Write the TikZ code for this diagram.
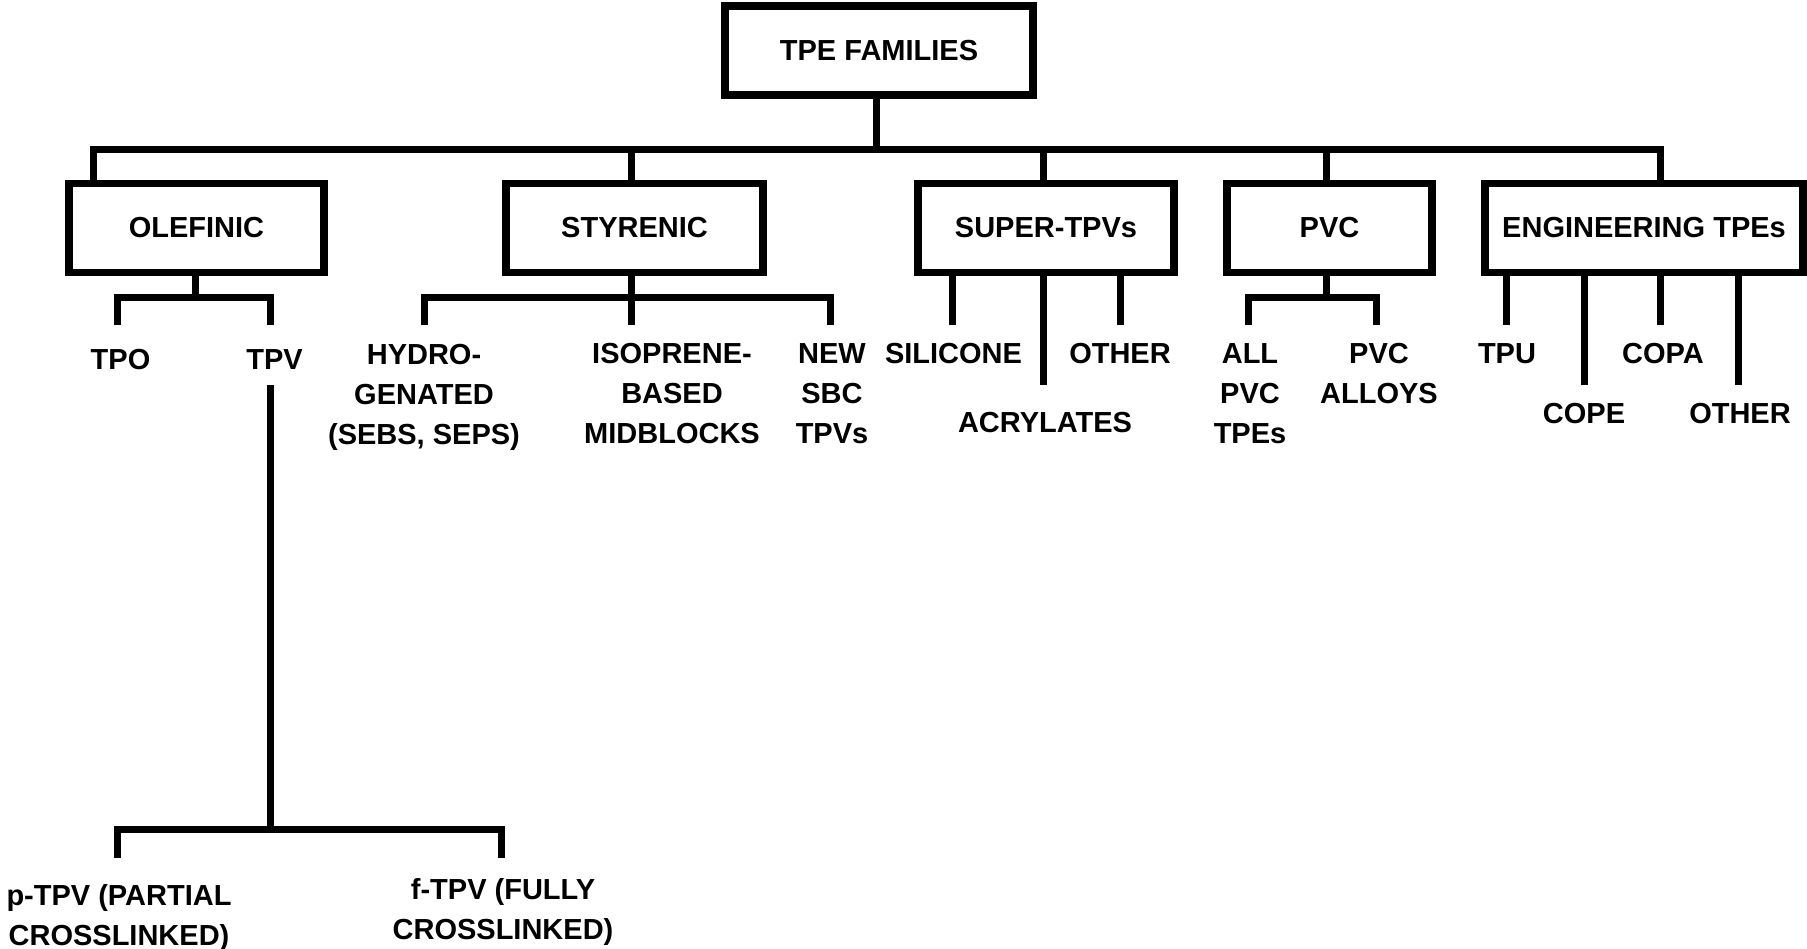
\documentclass[tikz,border=0pt]{standalone}
\usepackage{fontspec}
\setmainfont{Liberation Sans}
\usetikzlibrary{calc}

\tikzset{
  famBox/.style={draw, line width=3.85pt, outer sep=0pt, inner sep=0pt,
    minimum height=44.4pt, font=\fontsize{14.5}{20}\selectfont\bfseries},
  famText/.style={inner sep=0pt, align=center, anchor=base,
    font=\fontsize{14.5}{20}\selectfont\bfseries},
  link/.style={line width=3.5pt},
}

\begin{document}
\begin{tikzpicture}[x=0.5pt,y=-0.5pt]
		%%%%% START %%%%%
		\useasboundingbox (0,0) rectangle (1807,948);
		
		\node[famBox, minimum width=154.15pt] (fam) at (879,50.5) {TPE FAMILIES};
		
		\node[famBox, minimum width=127.65pt] (olef) at (196.5,228) {OLEFINIC};
		\node[famBox, minimum width=128.65pt] (styr) at (634.5,228) {STYRENIC};
		\node[famBox, minimum width=128.15pt] (super) at (1046,228) {SUPER-TPVs};
		\node[famBox, minimum width=102.65pt] (pvc) at (1329.5,228) {PVC};
		\node[famBox, minimum width=159.15pt] (eng) at (1644,228) {ENGINEERING TPEs};
		
		% labels sit on the baseline of their last line
		\node[famText] (tpo) at (120.5,369) {TPO};
		\node[famText] (tpv) at (274.5,369) {TPV};
		\node[famText] (hydro) at (424,444) {HYDRO-\\GENATED\\(SEBS, SEPS)};
		\node[famText] (iso) at (672,443) {ISOPRENE-\\BASED\\MIDBLOCKS};
		\node[famText] (sbc) at (832,443) {NEW\\SBC\\TPVs};
		\node[famText] (sil) at (953.5,363) {SILICONE};
		\node[famText] (acr) at (1045,432) {ACRYLATES};
		\node[famText] (oth) at (1120,363) {OTHER};
		\node[famText] (allpvc) at (1250,443) {ALL\\PVC\\TPEs};
		\node[famText] (alloy) at (1379,403) {PVC\\ALLOYS};
		\node[famText] (tpu) at (1507,363) {TPU};
		\node[famText] (cope) at (1584,423) {COPE};
		\node[famText] (copa) at (1663,363) {COPA};
		\node[famText] (othe) at (1740,423) {OTHER};
		\node[famText] (ptpv) at (119,945) {p-TPV (PARTIAL\\CROSSLINKED)};
		\node[famText] (ftpv) at (503,939) {f-TPV (FULLY\\CROSSLINKED)};
		
		% top level
		\coordinate (top) at (876,149);
		\coordinate (olef-up) at (93,149);
		\coordinate (styr-up) at (631,149);
		\coordinate (super-up) at (1043,149);
		\coordinate (pvc-up) at (1326.5,149);
		\coordinate (eng-up) at (1660,149);
		\draw[link] (top |- fam.south) -- (top);
		\draw[link] (olef-up |- olef.north) -- (olef-up) -- (eng-up) -- (eng-up |- eng.north);
		\draw[link] (styr-up) -- (styr-up |- styr.north);
		\draw[link] (super-up) -- (super-up |- super.north);
		\draw[link] (pvc-up) -- (pvc-up |- pvc.north);
		
		% olefinic
		\coordinate (olef-j) at (195,297);
		\coordinate (tpo-in) at (117,325);
		\coordinate (tpv-in) at (270,325);
		\draw[link] (olef-j |- olef.south) -- (olef-j);
		\draw[link] (tpo-in) |- (olef-j) -| (tpv-in);
		
		\coordinate (tpv-out) at (270,385);
		\coordinate (tpv-j) at (270,829);
		\coordinate (ptpv-in) at (117,858);
		\coordinate (ftpv-in) at (501,858);
		\draw[link] (tpv-out) -- (tpv-j);
		\draw[link] (ptpv-in) |- (tpv-j) -| (ftpv-in);
		
		% styrenic
		\coordinate (styr-j) at (631,297);
		\coordinate (hydro-in) at (424,325);
		\coordinate (iso-in) at (631,325);
		\coordinate (sbc-in) at (830,325);
		\draw[link] (styr-j |- styr.south) -- (iso-in);
		\draw[link] (hydro-in) |- (styr-j) -| (sbc-in);
		
		% super-tpvs
		\coordinate (sil-in) at (952.5,325);
		\coordinate (acr-in) at (1043,385);
		\coordinate (oth-in) at (1120,325);
		\draw[link] (sil-in |- super.south) -- (sil-in);
		\draw[link] (acr-in |- super.south) -- (acr-in);
		\draw[link] (oth-in |- super.south) -- (oth-in);
		
		% pvc
		\coordinate (pvc-j) at (1326.5,297);
		\coordinate (allpvc-in) at (1248.5,325);
		\coordinate (alloy-in) at (1376.5,325);
		\draw[link] (pvc-j |- pvc.south) -- (pvc-j);
		\draw[link] (allpvc-in) |- (pvc-j) -| (alloy-in);
		
		% engineering
		\coordinate (tpu-in) at (1506.5,325);
		\coordinate (cope-in) at (1584,385);
		\coordinate (copa-in) at (1660.5,325);
		\coordinate (othe-in) at (1738.5,385);
		\draw[link] (tpu-in |- eng.south) -- (tpu-in);
		\draw[link] (cope-in |- eng.south) -- (cope-in);
		\draw[link] (copa-in |- eng.south) -- (copa-in);
		\draw[link] (othe-in |- eng.south) -- (othe-in);
		
		%%%%% END %%%%%
\end{tikzpicture}
\end{document}
